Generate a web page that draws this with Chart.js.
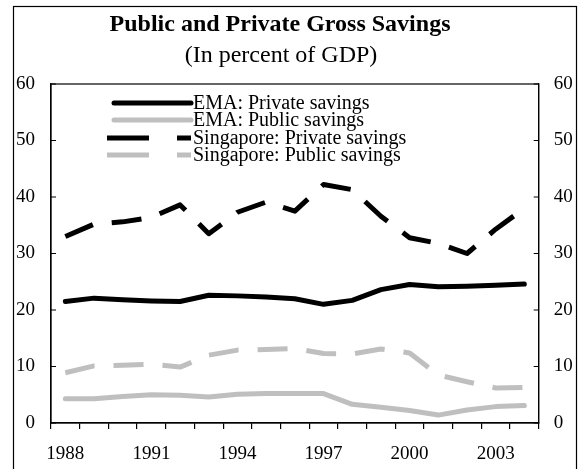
<!DOCTYPE html>
<html>
<head>
<meta charset="utf-8">
<script src="https://cdn.jsdelivr.net/npm/chart.js@4.4.0/dist/chart.umd.min.js"></script>
<style>
  html, body { margin: 0; padding: 0; background: #fff; }
  #savingsChart { display: block; }
</style>
</head>
<body>
<canvas id="savingsChart" width="582" height="469"></canvas>
<script>
// ===================== بيانات المخطط =====================
const titleText = 'Public and Private Gross Savings';
const subtitleText = '(In percent of GDP)';

const years = ['1988', '1989', '1990', '1991', '1992', '1993', '1994', '1995', '1996',
               '1997', '1998', '1999', '2000', '2001', '2002', '2003', '2004'];
const yearLabels = ['1988', '1991', '1994', '1997', '2000', '2003'];
const yTicks = [0, 10, 20, 30, 40, 50, 60];

const emaPrivate = [21.5, 22.1, 21.8, 21.6, 21.5, 22.6, 22.5, 22.3, 22.0, 21.0, 21.7, 23.6, 24.5, 24.1, 24.2, 24.4, 24.6];
const emaPublic = [4.3, 4.3, 4.7, 5.0, 4.9, 4.6, 5.1, 5.2, 5.2, 5.2, 3.3, 2.8, 2.2, 1.4, 2.3, 2.9, 3.1];
const sgPrivate = [33.0, 35.2, 35.6, 36.4, 38.6, 33.5, 37.3, 39.1, 37.5, 42.2, 41.3, 36.6, 32.8, 31.8, 30.0, 34.3, 38.0];
const sgPublic = [8.9, 10.1, 10.2, 10.4, 9.9, 12.0, 12.9, 13.0, 13.2, 12.3, 12.2, 13.1, 12.4, 8.5, 7.3, 6.2, 6.3];

const seriesNames = ['EMA: Private savings', 'EMA: Public savings',
                     'Singapore: Private savings', 'Singapore: Public savings'];

const BLACK = '#000000';
const GREY = '#bfbfbf';
const SERIF = '"Liberation Serif", "DejaVu Serif", serif';

// إطار الصورة والعنوان
const framePlugin = {
  id: 'frame',
  beforeDraw(chart) {
    const ctx = chart.ctx;
    ctx.save();
    ctx.fillStyle = '#fff';
    ctx.fillRect(0, 0, chart.width, chart.height);
    ctx.strokeStyle = BLACK;
    ctx.lineWidth = 1.2;
    ctx.strokeRect(13.5, 6.5, 563, 520);
    ctx.fillStyle = BLACK;
    ctx.textAlign = 'center';
    ctx.textBaseline = 'middle';
    ctx.font = 'bold 24px ' + SERIF;
    ctx.fillText(titleText, 280, 25);
    ctx.font = '24px ' + SERIF;
    ctx.fillText(subtitleText, 281, 56);
    ctx.restore();
  }
};

// صندوق منطقة الرسم وعلامات المحاور الداخلية
const boxPlugin = {
  id: 'plotBox',
  afterDraw(chart) {
    const { ctx, chartArea } = chart;
    const y = chart.scales.y;
    ctx.save();
    ctx.strokeStyle = BLACK;
    ctx.lineWidth = 1.2;
    ctx.strokeRect(chartArea.left, chartArea.top, chartArea.right - chartArea.left, chartArea.bottom - chartArea.top);
    ctx.beginPath();
    yTicks.forEach(v => {
      const py = y.getPixelForValue(v);
      ctx.moveTo(chartArea.left, py);
      ctx.lineTo(chartArea.left + 5, py);
      ctx.moveTo(chartArea.right, py);
      ctx.lineTo(chartArea.right - 5, py);
    });
    ctx.stroke();
    ctx.restore();
  }
};

// وسيلة الإيضاح داخل منطقة الرسم
const legendPlugin = {
  id: 'innerLegend',
  afterDatasetsDraw(chart) {
    const ctx = chart.ctx;
    const rows = [103, 120, 138, 155];
    ctx.save();
    ctx.font = '20px ' + SERIF;
    ctx.textBaseline = 'middle';
    ctx.textAlign = 'left';
    chart.data.datasets.forEach((ds, i) => {
      const yy = rows[i];
      const dashed = ds.borderDash.length > 0;
      ctx.strokeStyle = ds.borderColor;
      ctx.lineWidth = 5;
      ctx.lineCap = dashed ? 'butt' : 'round';
      ctx.setLineDash(dashed ? [42, 28] : []);
      ctx.beginPath();
      ctx.moveTo(dashed ? 107 : 114, yy);
      ctx.lineTo(191, yy);
      ctx.stroke();
      ctx.setLineDash([]);
      ctx.fillStyle = BLACK;
      ctx.fillText(ds.label, 193, yy + 1);
    });
    ctx.restore();
  }
};

function makeSeries(label, data, color, dashed) {
  return {
    label: label,
    data: data,
    borderColor: color,
    backgroundColor: color,
    borderWidth: 5,
    borderDash: dashed ? [30, 19] : [],
    borderCapStyle: dashed ? 'butt' : 'round',
    borderJoinStyle: 'round',
    pointRadius: 0,
    tension: 0,
    fill: false
  };
}

new Chart(document.getElementById('savingsChart'), {
  type: 'line',
  data: {
    labels: years,
    datasets: [
      makeSeries(seriesNames[0], emaPrivate, BLACK, false),
      makeSeries(seriesNames[1], emaPublic, GREY, false),
      makeSeries(seriesNames[2], sgPrivate, BLACK, true),
      makeSeries(seriesNames[3], sgPublic, GREY, true)
    ]
  },
  options: {
    responsive: false,
    animation: false,
    layout: { padding: { top: 84, left: 0, right: 0, bottom: 0 } },
    plugins: {
      legend: { display: false },
      title: { display: false },
      tooltip: { enabled: false }
    },
    scales: {
      x: {
        type: 'category',
        offset: true,
        grid: { offset: true, drawOnChartArea: false, drawTicks: true, tickLength: 6, color: BLACK, lineWidth: 1.2 },
        border: { color: BLACK, width: 1.2 },
        ticks: {
          autoSkip: false,
          maxRotation: 0,
          padding: 14,
          color: BLACK,
          font: { family: SERIF, size: 19 },
          callback: function (v, i) {
            const lab = years[i];
            return yearLabels.includes(lab) ? lab : '';
          }
        },
        afterFit: s => { s.height = 46; }
      },
      y: {
        position: 'left',
        min: 0, max: 60,
        grid: { display: false, drawTicks: false },
        border: { color: BLACK, width: 1.2 },
        ticks: { stepSize: 10, padding: 16, color: BLACK, font: { family: SERIF, size: 19 } },
        afterFit: s => { s.width = 51; }
      },
      y2: {
        position: 'right',
        min: 0, max: 60,
        grid: { display: false, drawTicks: false },
        border: { color: BLACK, width: 1.2 },
        ticks: { stepSize: 10, padding: 15, color: BLACK, font: { family: SERIF, size: 19 } },
        afterFit: s => { s.width = 43.3; }
      }
    }
  },
  plugins: [framePlugin, boxPlugin, legendPlugin]
});
</script>
</body>
</html>
